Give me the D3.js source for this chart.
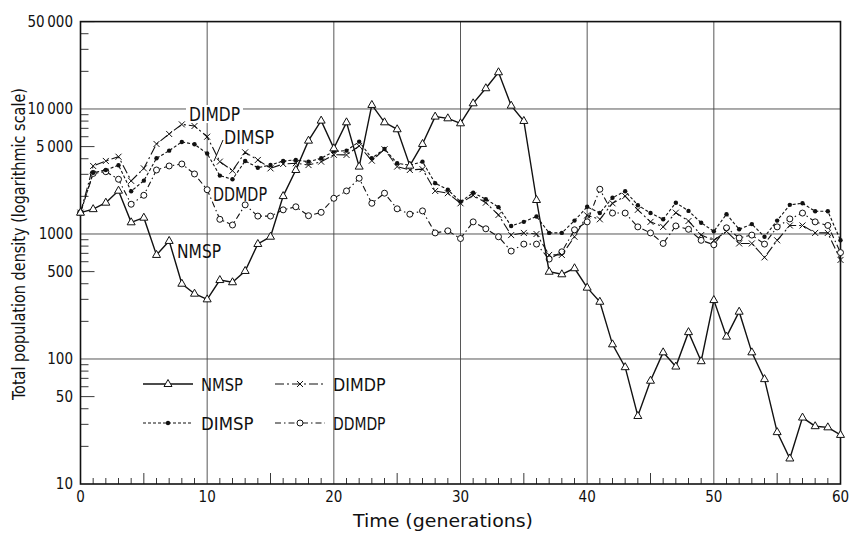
<!DOCTYPE html>
<html>
<head>
<meta charset="utf-8">
<script src="https://cdn.jsdelivr.net/npm/d3@7"></script>
<style>
  body { margin: 0; background: #fff; }
  svg text { font-family: "DejaVu Sans Condensed", "Liberation Sans Narrow", "DejaVu Sans", sans-serif; fill: #111; }
</style>
</head>
<body>
<svg id="chart" width="849" height="534"></svg>
<script>
// ---- data ---------------------------------------------------------
const GENS = [0,1,2,3,4,5,6,7,8,9,10,11,12,13,14,15,16,17,18,19,20,
  21,22,23,24,25,26,27,28,29,30,31,32,33,34,35,36,37,38,39,40,
  41,42,43,44,45,46,47,48,49,50,51,52,53,54,55,56,57,58,59,60];

const NMSP = [1480,1580,1780,2220,1240,1350,680,880,400,333,300,
  428,411,506,832,951,2010,3250,5580,8070,4840,
  7820,3460,10770,7820,6880,3520,5250,8690,8420,7680,
  11100,14650,19660,10630,8020,1870,499,476,532,372,
  287,131,86,35,67,113,87,164,96,296,
  151,239,113,69,26,16,34,29,28.4,24.7];

const DIMDP = [1480,3500,3840,4150,2660,3350,5250,6310,7530,7310,6000,
  3790,3210,4500,3910,3350,3630,3680,3560,3790,4300,
  4290,5060,3860,4760,3460,3250,3300,2210,2120,1760,
  2040,1780,1420,980,1020,1000,680,680,950,1410,
  1310,1760,2010,1560,1250,1140,1480,1270,980,890,
  1050,840,840,650,890,1170,1170,1020,1020,620];

const DIMSP = [1480,3090,3250,3550,2200,2670,4030,4640,5450,5220,4400,
  2930,2740,3840,3390,3560,3840,3910,3790,4030,4580,
  4640,5480,4030,4790,3680,3550,3790,2550,2260,1810,
  2140,1900,1640,1160,1250,1380,1020,1020,1280,1650,
  1470,1950,2200,1700,1470,1310,1780,1530,1230,1050,
  1440,1090,1200,950,1280,1710,1760,1520,1520,890];

const DDMDP = [1480,3050,3150,2740,1730,2040,3250,3500,3630,3020,2260,
  1310,1180,1710,1390,1390,1560,1650,1400,1490,1930,
  2210,2790,1760,2120,1590,1440,1530,1020,1060,920,
  1250,1100,950,730,830,830,630,720,1080,1250,
  2280,1470,1470,1140,1020,840,1160,1090,890,820,
  1120,930,980,830,1140,1320,1470,1250,1170,710];

const X_TICKS = [0,10,20,30,40,50,60];
const Y_TICKS = [10,50,100,500,1000,5000,10000,50000];
const Y_LABELS = ["10","50","100","500","1000","5\u2009000","10\u2009000","50\u2009000"];
const Y_GRID = [100,1000,10000];

// ---- setup --------------------------------------------------------
const svg = d3.select("#chart");
const L = 80.5, R = 840.5, T = 21.6, B = 484;

const x = d3.scaleLinear().domain([0, 60]).range([L, R]);
const y = d3.scaleLog().domain([10, 50000]).range([B, T]);

// gridlines
svg.append("g").selectAll("line")
  .data(X_TICKS.slice(1, -1))
  .enter().append("line")
  .attr("x1", d => x(d)).attr("x2", d => x(d))
  .attr("y1", T).attr("y2", B)
  .attr("stroke", "#444").attr("stroke-width", 0.9);

svg.append("g").selectAll("line")
  .data(Y_GRID)
  .enter().append("line")
  .attr("x1", L).attr("x2", R)
  .attr("y1", d => y(d)).attr("y2", d => y(d))
  .attr("stroke", "#444").attr("stroke-width", 0.9);

// minor ticks on x (every generation, longer at fives)
svg.append("g").selectAll("line")
  .data(GENS.filter(d => d % 10 !== 0))
  .enter().append("line")
  .attr("x1", d => x(d)).attr("x2", d => x(d))
  .attr("y1", B).attr("y2", d => B - (d % 5 === 0 ? 11 : 6))
  .attr("stroke", "#222").attr("stroke-width", 0.9);

// minor ticks on y (log)
const yMinor = [];
[10, 100, 1000, 10000].forEach(dec => {
  for (let k = 2; k <= 9; k++) if (dec * k <= 50000) yMinor.push(dec * k);
});
svg.append("g").selectAll("line")
  .data(yMinor.filter(d => Y_TICKS.indexOf(d) < 0))
  .enter().append("line")
  .attr("x1", L).attr("x2", L + 8)
  .attr("y1", d => y(d)).attr("y2", d => y(d))
  .attr("stroke", "#222").attr("stroke-width", 0.9);

// major y ticks 50 / 500 / 5000 / 50000
svg.append("g").selectAll("line")
  .data([50, 500, 5000, 50000])
  .enter().append("line")
  .attr("x1", L).attr("x2", L + 14)
  .attr("y1", d => y(d)).attr("y2", d => y(d))
  .attr("stroke", "#222").attr("stroke-width", 0.9);

// frame
svg.append("rect")
  .attr("x", L).attr("y", T)
  .attr("width", R - L).attr("height", B - T)
  .attr("fill", "none").attr("stroke", "#111").attr("stroke-width", 1.6);

// tick labels
svg.append("g").selectAll("text")
  .data(Y_TICKS)
  .enter().append("text")
  .attr("x", 73).attr("y", d => y(d) + 5)
  .attr("text-anchor", "end")
  .style("font-size", "15px")
  .text((d, i) => Y_LABELS[i]);

svg.append("g").selectAll("text")
  .data(X_TICKS)
  .enter().append("text")
  .attr("x", d => x(d)).attr("y", 502)
  .attr("text-anchor", "middle")
  .style("font-size", "15px")
  .text(d => d);

// axis titles
svg.append("text")
  .attr("x", 443).attr("y", 527)
  .attr("text-anchor", "middle")
  .style("font-size", "17px")
  .attr("textLength", 180).attr("lengthAdjust", "spacingAndGlyphs")
  .text("Time  (generations)");

svg.append("text")
  .attr("transform", "translate(25,244) rotate(-90)")
  .attr("text-anchor", "middle")
  .style("font-size", "17px")
  .attr("textLength", 312).attr("lengthAdjust", "spacingAndGlyphs")
  .text("Total population density  (logarithmic scale)");

// ---- series -------------------------------------------------------
const SERIES = [
  { name: "DDMDP", values: DDMDP, dash: "6,3,1.5,3", marker: "circle" },
  { name: "DIMSP", values: DIMSP, dash: "3,2", marker: "dot" },
  { name: "DIMDP", values: DIMDP, dash: "9,3,2,3", marker: "cross" },
  { name: "NMSP",  values: NMSP,  dash: null, marker: "tri" }
];

function drawMarker(g, type, cx, cy) {
  if (type === "tri") {
    g.append("path")
      .attr("d", `M${cx},${cy - 4.5}L${cx + 4},${cy + 2.5}L${cx - 4},${cy + 2.5}Z`)
      .attr("fill", "#fff").attr("stroke", "#111").attr("stroke-width", 1);
  } else if (type === "cross") {
    g.append("path")
      .attr("d", `M${cx - 3},${cy - 3}L${cx + 3},${cy + 3}M${cx - 3},${cy + 3}L${cx + 3},${cy - 3}`)
      .attr("stroke", "#111").attr("stroke-width", 1);
  } else if (type === "dot") {
    g.append("circle").attr("cx", cx).attr("cy", cy).attr("r", 2.2).attr("fill", "#111");
  } else {
    g.append("circle").attr("cx", cx).attr("cy", cy).attr("r", 3)
      .attr("fill", "#fff").attr("stroke", "#111").attr("stroke-width", 1);
  }
}

const line = d3.line().x(d => x(d[0])).y(d => y(d[1]));

SERIES.forEach(s => {
  const pts = GENS.map((gv, i) => [gv, s.values[i]]);
  const g = svg.append("g");
  g.append("path")
    .datum(pts)
    .attr("d", line)
    .attr("fill", "none")
    .attr("stroke", "#111")
    .attr("stroke-width", s.dash ? 1.1 : 1.4)
    .attr("stroke-dasharray", s.dash);
  pts.forEach(p => drawMarker(g, s.marker, x(p[0]), y(p[1])));
});

// ---- in-plot annotations -----------------------------------------
function label(txt, lx, ly, w, bg) {
  if (bg) {
    svg.append("rect").attr("x", lx - 3).attr("y", ly - 16)
      .attr("width", w + 6).attr("height", 18).attr("fill", "#fff");
  }
  svg.append("text")
    .attr("x", lx).attr("y", ly)
    .style("font-size", "20px")
    .attr("textLength", w).attr("lengthAdjust", "spacingAndGlyphs")
    .text(txt);
}

label("DIMDP", 189, 121, 51, true);
label("DIMSP", 224, 144, 50, false);
label("DDMDP", 213, 201, 54, false);
label("NMSP", 177, 258, 44, false);

svg.append("line")
  .attr("x1", 223).attr("y1", 140).attr("x2", 214).attr("y2", 161)
  .attr("stroke", "#111").attr("stroke-width", 1);

// ---- legend -------------------------------------------------------
const LEGEND = [
  { s: SERIES[3], lx: 143, ly: 384 },
  { s: SERIES[2], lx: 275, ly: 384 },
  { s: SERIES[1], lx: 143, ly: 423 },
  { s: SERIES[0], lx: 275, ly: 423 }
];

LEGEND.forEach(d => {
  const g = svg.append("g");
  g.append("line")
    .attr("x1", d.lx).attr("x2", d.lx + 50)
    .attr("y1", d.ly).attr("y2", d.ly)
    .attr("stroke", "#111")
    .attr("stroke-width", d.s.dash ? 1.1 : 1.4)
    .attr("stroke-dasharray", d.s.dash);
  drawMarker(g, d.s.marker, d.lx + 25, d.ly);
  g.append("text")
    .attr("x", d.lx + 58).attr("y", d.ly + 7)
    .style("font-size", "18px")
    .attr("textLength", d.s.name.length * 10.5).attr("lengthAdjust", "spacingAndGlyphs")
    .text(d.s.name);
});
</script>
</body>
</html>
